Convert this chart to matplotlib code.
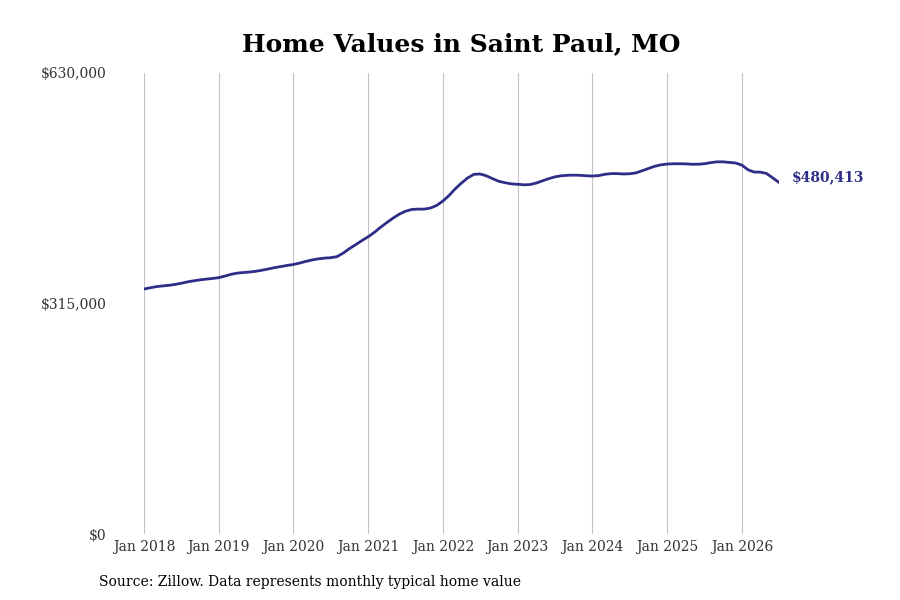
import matplotlib
matplotlib.use("Agg")
import matplotlib.pyplot as plt
import pandas as pd

# Monthly typical home values (thousands of $), Jan 2018 .. Jul 2026
v2018 = [334.8, 336.5, 338.0, 339.0, 339.8, 341.0, 342.6, 344.5, 346.0, 347.3, 348.3, 349.2]
v2019 = [350.3, 352.5, 354.8, 356.5, 357.3, 358.0, 359.0, 360.5, 362.2, 364.0, 365.5, 367.0]
v2020 = [368.3, 370.3, 372.5, 374.5, 376.0, 377.0, 377.6, 379.0, 384.0, 390.0, 395.5, 401.0]
v2021 = [406.3, 412.5, 419.0, 425.5, 431.5, 437.0, 441.0, 443.5, 444.0, 444.0, 445.5, 449.0]
v2022 = [455.1, 463.0, 471.5, 479.5, 486.5, 491.5, 492.0, 489.5, 485.5, 482.0, 480.0, 478.5]
v2023 = [477.9, 477.2, 477.5, 479.5, 482.5, 485.5, 488.0, 489.5, 490.2, 490.4, 490.2, 489.6]
v2024 = [489.2, 489.8, 491.5, 492.5, 492.5, 492.0, 492.3, 493.5, 496.5, 499.5, 502.5, 504.5]
v2025 = [505.6, 506.0, 506.0, 505.8, 505.3, 505.3, 506.0, 507.5, 508.6, 508.6, 507.8, 507.0]
v2026 = [504.0, 497.5, 494.7, 494.5, 492.7, 486.5, 480.413]

values = [v * 1000 for v in (v2018 + v2019 + v2020 + v2021 + v2022 + v2023 + v2024 + v2025 + v2026)]
dates = pd.date_range("2018-01-01", periods=len(values), freq="MS")

tick_years = list(range(2018, 2027))
tick_labels = [f"Jan {y}" for y in tick_years]
y_ticks = [0, 315000, 630000]
y_tick_labels = ["$0", "$315,000", "$630,000"]

title = "Home Values in Saint Paul, MO"
source = "Source: Zillow. Data represents monthly typical home value"
last_label = "$480,413"

line_color = "#2e2d88"
serif = ["DejaVu Serif"]

fig = plt.figure(figsize=(9, 6), dpi=100)
ax = fig.add_axes([144 / 900, 66 / 600, (779 - 144) / 900, 461 / 600])

ax.plot(dates, values, color=line_color, linewidth=2.0, solid_capstyle="round")

ax.set_xlim(dates[0], dates[-1])
ax.set_ylim(0, 630000)

ticks = [pd.Timestamp(f"{y}-01-01") for y in tick_years]
ax.set_xticks(ticks)
ax.set_xticklabels(tick_labels, fontfamily=serif, fontsize=10, color="#333333")
ax.set_yticks(y_ticks)
ax.set_yticklabels(y_tick_labels, fontfamily=serif, fontsize=10, color="#333333")
ax.tick_params(axis="both", length=0)
ax.tick_params(axis="y", pad=27)
ax.tick_params(axis="x", pad=4)

ax.grid(axis="x", color="#c4c4c4", linewidth=0.8)
ax.grid(axis="y", visible=False)
for s in ax.spines.values():
    s.set_visible(False)

ax.annotate(last_label, xy=(dates[-1], values[-1]), xytext=(9.5, 3.8),
            textcoords="offset points", ha="left", va="center",
            fontfamily=serif, fontsize=10, fontweight="bold", color=line_color,
            annotation_clip=False)

fig.text(461 / 900, 1 - 44 / 600, title, ha="center", va="center",
         fontfamily=serif, fontsize=18, fontweight="bold", color="black")
fig.text(99 / 900, 1 - 582 / 600, source, ha="left", va="center",
         fontfamily=serif, fontsize=10, color="black")

fig.savefig("out.png", dpi=100)
